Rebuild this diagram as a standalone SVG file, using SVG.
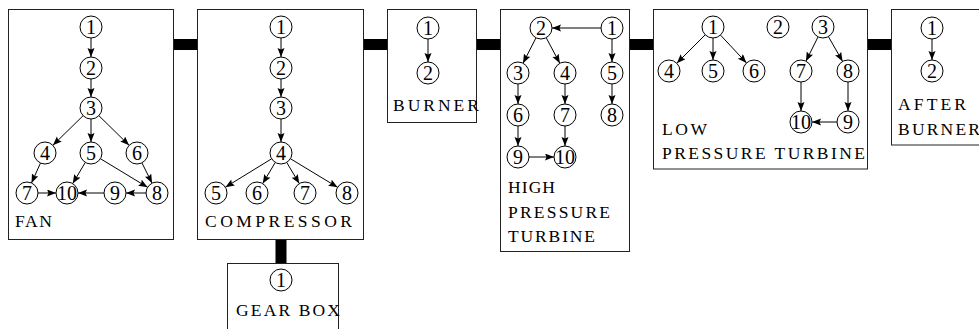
<svg xmlns="http://www.w3.org/2000/svg" width="979" height="329" viewBox="0 0 979 329">
<style>
.box{fill:#fff;stroke:#222;stroke-width:1}
.bar{fill:#000}
.n circle{fill:#fff;stroke:#000;stroke-width:1}
.n text{font-family:"Liberation Serif",serif;font-size:20px;text-anchor:middle;fill:#000}
.lbl{font-family:"Liberation Serif",serif;font-size:17.5px;fill:#000}
.e line{stroke:#000;stroke-width:1;marker-end:url(#ah)}
</style>
<defs>
<marker id="ah" markerUnits="userSpaceOnUse" markerWidth="10" markerHeight="8" refX="9" refY="3.5" orient="auto">
<path d="M0,0 L9,3.5 L0,7 L1.5,3.5 z" fill="#000"/>
</marker>
</defs>
<rect x="0" y="0" width="979" height="329" fill="#fff"/>
<g id="bars">
<rect class="bar" x="174" y="39" width="24" height="11"/>
<rect class="bar" x="363" y="39" width="25" height="11"/>
<rect class="bar" x="476" y="39" width="25" height="11"/>
<rect class="bar" x="629" y="39" width="25" height="11"/>
<rect class="bar" x="867" y="39" width="25" height="11"/>
<rect class="bar" x="275.5" y="239" width="11" height="25"/>
</g>
<g id="fan">
<rect class="box" x="8.5" y="9.5" width="165" height="230"/>
<text class="lbl" x="15" y="227" textLength="37" lengthAdjust="spacing">FAN</text>
</g>
<g id="compressor">
<rect class="box" x="197.5" y="9.5" width="166" height="230"/>
<text class="lbl" x="205" y="227" textLength="147" lengthAdjust="spacing">COMPRESSOR</text>
</g>
<g id="gearbox">
<rect class="box" x="227.5" y="263.5" width="111" height="80"/>
<text class="lbl" x="236" y="316" textLength="104" lengthAdjust="spacing">GEAR BOX</text>
</g>
<g id="burner">
<rect class="box" x="387.5" y="9.5" width="89" height="113"/>
<text class="lbl" x="393" y="111" textLength="86" lengthAdjust="spacing">BURNER</text>
</g>
<g id="hpt">
<rect class="box" x="500.5" y="9.5" width="129" height="242"/>
<text class="lbl" x="508" y="193" textLength="47" lengthAdjust="spacing">HIGH</text>
<text class="lbl" x="508" y="218" textLength="102" lengthAdjust="spacing">PRESSURE</text>
<text class="lbl" x="508" y="242" textLength="87" lengthAdjust="spacing">TURBINE</text>
</g>
<g id="lpt">
<rect class="box" x="653.5" y="9.5" width="214" height="159.5"/>
<text class="lbl" x="662" y="135" textLength="45" lengthAdjust="spacing">LOW</text>
<text class="lbl" x="662" y="159" textLength="203" lengthAdjust="spacing">PRESSURE TURBINE</text>
</g>
<g id="afterburner">
<rect class="box" x="891.5" y="9.5" width="100" height="135.5"/>
<text class="lbl" x="898" y="110" textLength="68" lengthAdjust="spacing">AFTER</text>
<text class="lbl" x="898" y="135" textLength="82" lengthAdjust="spacing">BURNER</text>
</g>
<g id="connectors" class="e">
<line x1="91" y1="38" x2="91" y2="57"/>
<line x1="91" y1="79" x2="91" y2="97"/>
<line x1="83.1" y1="115.7" x2="52.9" y2="145.3"/>
<line x1="91" y1="119" x2="91" y2="142"/>
<line x1="98.9" y1="115.7" x2="129.1" y2="145.3"/>
<line x1="40.5" y1="163" x2="31.5" y2="183"/>
<line x1="85.3" y1="162.4" x2="72.7" y2="183.6"/>
<line x1="100.4" y1="158.7" x2="147.6" y2="187.3"/>
<line x1="141.9" y1="162.8" x2="152.1" y2="183.2"/>
<line x1="38" y1="193" x2="56" y2="193"/>
<line x1="104" y1="193" x2="78" y2="193"/>
<line x1="146" y1="193" x2="126" y2="193"/>
<line x1="281" y1="38" x2="281" y2="57"/>
<line x1="281" y1="79" x2="281" y2="97"/>
<line x1="281" y1="119" x2="281" y2="142"/>
<line x1="271.6" y1="158.8" x2="225.4" y2="187.2"/>
<line x1="275.3" y1="162.4" x2="262.7" y2="183.6"/>
<line x1="286.7" y1="162.4" x2="299.3" y2="183.6"/>
<line x1="290.4" y1="158.7" x2="337.6" y2="187.3"/>
<line x1="428" y1="39" x2="428" y2="62"/>
<line x1="601" y1="28" x2="552" y2="28"/>
<line x1="536" y1="37.8" x2="523" y2="63.2"/>
<line x1="546.2" y1="37.7" x2="559.8" y2="63.3"/>
<line x1="612" y1="39" x2="612" y2="62"/>
<line x1="518" y1="84" x2="518" y2="104"/>
<line x1="565" y1="84" x2="565" y2="104"/>
<line x1="612" y1="84" x2="612" y2="104"/>
<line x1="518" y1="126" x2="518" y2="146"/>
<line x1="565" y1="126" x2="565" y2="146"/>
<line x1="529" y1="157" x2="554" y2="157"/>
<line x1="705.2" y1="34.8" x2="676.8" y2="63.2"/>
<line x1="713" y1="38" x2="713" y2="60"/>
<line x1="720.5" y1="35.1" x2="746.5" y2="62.9"/>
<line x1="818.1" y1="36.8" x2="805.9" y2="61.2"/>
<line x1="828.4" y1="36.6" x2="842.6" y2="61.4"/>
<line x1="801" y1="82" x2="801" y2="111"/>
<line x1="848" y1="82" x2="848" y2="111"/>
<line x1="837" y1="122" x2="812" y2="122"/>
<line x1="932" y1="39" x2="932" y2="60"/>
</g>
<g id="fan-nodes">
<g id="fan-1" class="n"><circle cx="91" cy="27" r="11"/><text x="91" y="34">1</text></g>
<g id="fan-2" class="n"><circle cx="91" cy="68" r="11"/><text x="91" y="75">2</text></g>
<g id="fan-3" class="n"><circle cx="91" cy="108" r="11"/><text x="91" y="115">3</text></g>
<g id="fan-4" class="n"><circle cx="45" cy="153" r="11"/><text x="45" y="160">4</text></g>
<g id="fan-5" class="n"><circle cx="91" cy="153" r="11"/><text x="91" y="160">5</text></g>
<g id="fan-6" class="n"><circle cx="137" cy="153" r="11"/><text x="137" y="160">6</text></g>
<g id="fan-7" class="n"><circle cx="27" cy="193" r="11"/><text x="27" y="200">7</text></g>
<g id="fan-10" class="n"><circle cx="67" cy="193" r="11"/><text x="67" y="200">10</text></g>
<g id="fan-9" class="n"><circle cx="115" cy="193" r="11"/><text x="115" y="200">9</text></g>
<g id="fan-8" class="n"><circle cx="157" cy="193" r="11"/><text x="157" y="200">8</text></g>
</g>
<g id="comp-nodes">
<g id="comp-1" class="n"><circle cx="281" cy="27" r="11"/><text x="281" y="34">1</text></g>
<g id="comp-2" class="n"><circle cx="281" cy="68" r="11"/><text x="281" y="75">2</text></g>
<g id="comp-3" class="n"><circle cx="281" cy="108" r="11"/><text x="281" y="115">3</text></g>
<g id="comp-4" class="n"><circle cx="281" cy="153" r="11"/><text x="281" y="160">4</text></g>
<g id="comp-5" class="n"><circle cx="216" cy="193" r="11"/><text x="216" y="200">5</text></g>
<g id="comp-6" class="n"><circle cx="257" cy="193" r="11"/><text x="257" y="200">6</text></g>
<g id="comp-7" class="n"><circle cx="305" cy="193" r="11"/><text x="305" y="200">7</text></g>
<g id="comp-8" class="n"><circle cx="347" cy="193" r="11"/><text x="347" y="200">8</text></g>
</g>
<g id="gear-1" class="n"><circle cx="281" cy="280" r="11"/><text x="281" y="287">1</text></g>
<g id="burner-nodes">
<g id="burner-1" class="n"><circle cx="428" cy="28" r="11"/><text x="428" y="35">1</text></g>
<g id="burner-2" class="n"><circle cx="428" cy="73" r="11"/><text x="428" y="80">2</text></g>
</g>
<g id="hpt-nodes">
<g id="hpt-2" class="n"><circle cx="541" cy="28" r="11"/><text x="541" y="35">2</text></g>
<g id="hpt-1" class="n"><circle cx="612" cy="28" r="11"/><text x="612" y="35">1</text></g>
<g id="hpt-3" class="n"><circle cx="518" cy="73" r="11"/><text x="518" y="80">3</text></g>
<g id="hpt-4" class="n"><circle cx="565" cy="73" r="11"/><text x="565" y="80">4</text></g>
<g id="hpt-5" class="n"><circle cx="612" cy="73" r="11"/><text x="612" y="80">5</text></g>
<g id="hpt-6" class="n"><circle cx="518" cy="115" r="11"/><text x="518" y="122">6</text></g>
<g id="hpt-7" class="n"><circle cx="565" cy="115" r="11"/><text x="565" y="122">7</text></g>
<g id="hpt-8" class="n"><circle cx="612" cy="115" r="11"/><text x="612" y="122">8</text></g>
<g id="hpt-9" class="n"><circle cx="518" cy="157" r="11"/><text x="518" y="164">9</text></g>
<g id="hpt-10" class="n"><circle cx="565" cy="157" r="11"/><text x="565" y="164">10</text></g>
</g>
<g id="lpt-nodes">
<g id="lpt-1" class="n"><circle cx="713" cy="27" r="11"/><text x="713" y="34">1</text></g>
<g id="lpt-2" class="n"><circle cx="778" cy="27" r="11"/><text x="778" y="34">2</text></g>
<g id="lpt-3" class="n"><circle cx="823" cy="27" r="11"/><text x="823" y="34">3</text></g>
<g id="lpt-4" class="n"><circle cx="669" cy="71" r="11"/><text x="669" y="78">4</text></g>
<g id="lpt-5" class="n"><circle cx="713" cy="71" r="11"/><text x="713" y="78">5</text></g>
<g id="lpt-6" class="n"><circle cx="754" cy="71" r="11"/><text x="754" y="78">6</text></g>
<g id="lpt-7" class="n"><circle cx="801" cy="71" r="11"/><text x="801" y="78">7</text></g>
<g id="lpt-8" class="n"><circle cx="848" cy="71" r="11"/><text x="848" y="78">8</text></g>
<g id="lpt-10" class="n"><circle cx="801" cy="122" r="11"/><text x="801" y="129">10</text></g>
<g id="lpt-9" class="n"><circle cx="848" cy="122" r="11"/><text x="848" y="129">9</text></g>
</g>
<g id="ab-nodes">
<g id="ab-1" class="n"><circle cx="932" cy="28" r="11"/><text x="932" y="35">1</text></g>
<g id="ab-2" class="n"><circle cx="932" cy="71" r="11"/><text x="932" y="78">2</text></g>
</g>
</svg>
